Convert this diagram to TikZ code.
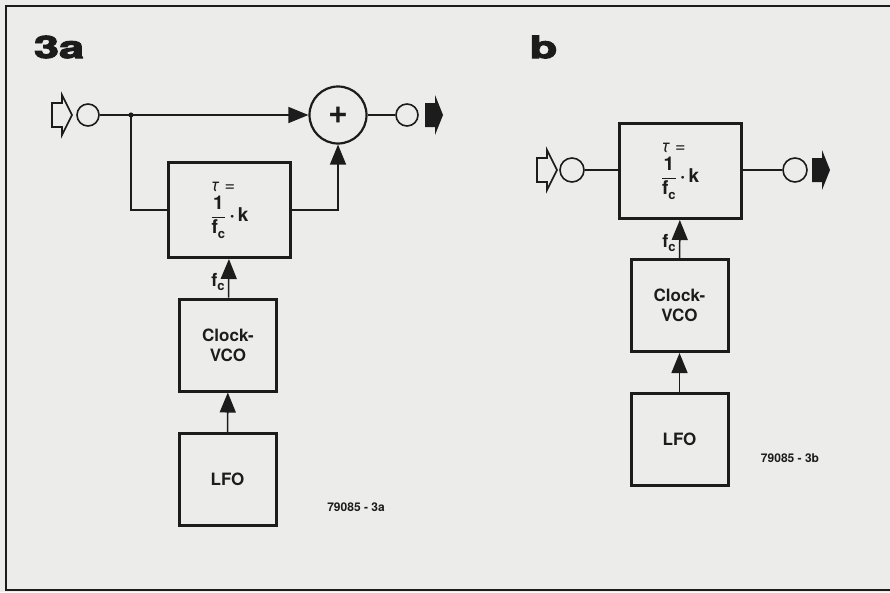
\documentclass[tikz,border=0pt]{standalone}
\usepackage{amsmath}
\usepackage{fontspec}
\setmainfont{TeX Gyre Heros}
\newfontfamily\heavyfont{texgyreheros-bold.otf}[FakeBold=3]
\usetikzlibrary{arrows.meta}
\definecolor{paper}{RGB}{236,236,234}
\definecolor{ink}{RGB}{28,28,28}
\newcommand{\fcsub}{f\raisebox{-0.45ex}{\fontsize{13}{13}\selectfont c}}
\newcommand{\taurule}{{\mdseries\fontsize{18}{18}\selectfont\itshape τ\upshape\ =}}

\begin{document}
\begin{tikzpicture}[x=1pt, y=-1pt, >={Triangle[length=20pt,width=16pt]},
    every node/.style={font=\bfseries\fontsize{17}{20}\selectfont, text=ink},
    blk/.style={draw=ink, line width=3pt, minimum width=97pt, minimum height=92pt, align=center, inner sep=0pt},
    delaybox/.style={blk, minimum width=122pt, minimum height=95pt, align=left, font=\bfseries\fontsize{19}{22}\selectfont},
    port/.style={draw=ink, circle, line width=1.6pt, minimum size=22pt, inner sep=0pt},
    sumnode/.style={port, minimum size=57pt, line width=2.2pt, font=\bfseries\fontsize{34}{34}\selectfont},
    wire/.style={draw=ink, line width=1.5pt},
    plugin/.style={draw=ink, line width=1.7pt, fill=paper, line join=miter},
    plugout/.style={fill=ink},
    tag/.style={font=\bfseries\fontsize{12}{14}\selectfont},
    flabel/.style={font=\bfseries\fontsize{18}{18}\selectfont},
    title/.style={font=\heavyfont\fontsize{31}{31}\selectfont}]
  \useasboundingbox (0,0) rectangle (890,592);
  \fill[paper] (0,0) rectangle (890,592);
  \draw[ink, line width=2pt] (890,6) -- (6,6) -- (6,590) -- (890,590);

  \node[title] (titlea) at (59,47) {\scalebox{1.45}[1]{3a}};
  \node[port] (ina) at (88,115) {};
  \coordinate (ja) at (131,115);
  \node[sumnode] (suma) at (338,115) {+};
  \node[port] (outa) at (407,115) {};
  \node[delaybox] (dela) at (229.5,210) {\taurule\\[4pt]$\dfrac{\text{1}}{\text{\fcsub}}$\,·\,k};
  \node[blk] (vcoa) at (228,345) {Clock-\\VCO};
  \node[blk] (lfoa) at (227.5,479.5) {LFO};
  \node[tag] (numa) at (356,507) {79085 - 3a};
  \draw[plugin, shift={(72,115)}] (-20,-12) -- (-10,-12) -- (-10,-20) -- (0,0) -- (-10,20) -- (-10,12) -- (-20,12) -- cycle;
  \fill[plugout, shift={(443,115)}] (-18,-12) -- (-8,-12) -- (-8,-20) -- (0,0) -- (-8,20) -- (-8,12) -- (-18,12) -- cycle;
  \draw[wire, ->] (ina) -- (suma);
  \fill[ink] (ja) circle (2.6);
  \draw[wire] (ja) |- (dela);
  \draw[wire, ->] (dela) -| (suma);
  \draw[wire] (suma) -- (outa);
  \draw[wire, ->] (vcoa) -- node[flabel, left=0pt, pos=0.4] {\fcsub} (dela);
  \draw[wire, ->] (lfoa) -- (vcoa);

  \node[title] (titleb) at (543.5,47) {\scalebox{1.45}[1]{b}};
  \node[port, minimum size=24pt] (inb) at (572,170) {};
  \node[delaybox] (delb) at (680,171) {\taurule\\[4pt]$\dfrac{\text{1}}{\text{\fcsub}}$\,·\,k};
  \node[port, minimum size=24pt] (outb) at (795,170) {};
  \node[blk] (vcob) at (679.5,305.5) {Clock-\\VCO};
  \node[blk] (lfob) at (679.5,439.5) {LFO};
  \node[tag] (numb) at (790,458) {79085 - 3b};
  \draw[plugin, shift={(557,170)}] (-20,-12) -- (-10,-12) -- (-10,-20) -- (0,0) -- (-10,20) -- (-10,12) -- (-20,12) -- cycle;
  \fill[plugout, shift={(830,170)}] (-18,-12) -- (-8,-12) -- (-8,-20) -- (0,0) -- (-8,20) -- (-8,12) -- (-18,12) -- cycle;
  \draw[wire] (inb) -- (delb.west |- inb);
  \draw[wire] (delb.east |- outb) -- (outb);
  \draw[wire, ->] (vcob) -- node[flabel, left=0pt, pos=0.4] {\fcsub} (delb);
  \draw[wire, ->] (lfob) -- (vcob);
\end{tikzpicture}
\end{document}
